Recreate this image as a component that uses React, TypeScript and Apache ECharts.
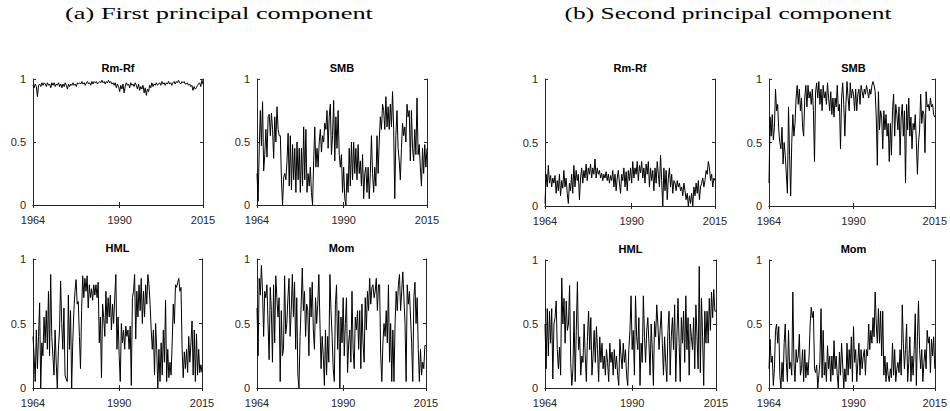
import React, { useEffect, useRef } from "react";
import * as echarts from "echarts";

// sample dates: every 4 months from 1964 to 2015
const YEARS: number[] = Array.from({ length: 154 }, (_, i) => 1964 + i / 3);
const X_TICKS = [1964, 1990, 2015];
const Y_TICKS = [0, 0.5, 1];

// (a) First principal component
const A_RMRF = [
  0.95, 0.93, 0.96, 0.94, 0.86, 0.95, 0.96, 0.94, 0.97, 0.95, 0.97, 0.96,
  0.94, 0.97, 0.95, 0.96, 0.93, 0.97, 0.95, 0.97, 0.94, 0.96, 0.95, 0.97,
  0.94, 0.96, 0.93, 0.96, 0.94, 0.97, 0.95, 0.92, 0.96, 0.94, 0.96, 0.95,
  0.97, 0.95, 0.96, 0.94, 0.97, 0.96, 0.97, 0.96, 0.98, 0.96, 0.97, 0.95,
  0.97, 0.98, 0.96, 0.97, 0.95, 0.98, 0.96, 0.98, 0.97, 0.98, 0.96, 0.97,
  0.98, 0.97, 0.99, 0.97, 0.98, 0.96, 0.98, 0.97, 0.99, 0.97, 0.98, 0.96,
  0.97, 0.95, 0.97, 0.93, 0.96, 0.94, 0.90, 0.95, 0.92, 0.96, 0.89, 0.94,
  0.97, 0.95, 0.96, 0.93, 0.97, 0.95, 0.96, 0.94, 0.97, 0.95, 0.92, 0.96,
  0.91, 0.94, 0.92, 0.95, 0.89, 0.93, 0.87, 0.92, 0.90, 0.95, 0.93, 0.97,
  0.94, 0.96, 0.95, 0.97, 0.95, 0.96, 0.97, 0.95, 0.98, 0.96, 0.97, 0.95,
  0.97, 0.96, 0.98, 0.96, 0.97, 0.95, 0.97, 0.98, 0.96, 0.98, 0.97, 0.99,
  0.97, 0.96, 0.98, 0.97, 0.98, 0.96, 0.96, 0.97, 0.95, 0.96, 0.94, 0.95,
  0.91, 0.94, 0.92, 0.93, 0.95, 0.96, 0.97, 0.94, 0.99, 0.96,
];
const A_SMB = [
  0.25, 0.03, 0.45, 0.75, 0.47, 0.82, 0.27, 0.40, 0.60, 0.38, 0.70, 0.72,
  0.55, 0.73, 0.60, 0.37, 0.70, 0.50, 0.78, 0.60, 0.55, 0.55, 0.20, 0.00,
  0.22, 0.25, 0.20, 0.35, 0.57, 0.15, 0.55, 0.12, 0.48, 0.20, 0.45, 0.10,
  0.50, 0.20, 0.45, 0.10, 0.45, 0.15, 0.62, 0.20, 0.60, 0.10, 0.25, 0.15,
  0.30, 0.10, 0.00, 0.35, 0.62, 0.30, 0.45, 0.30, 0.50, 0.60, 0.42, 0.55,
  0.50, 0.65, 0.60, 0.75, 0.45, 0.70, 0.80, 0.40, 0.55, 0.83, 0.35, 0.70,
  0.45, 0.75, 0.40, 0.30, 0.40, 0.10, 0.30, 0.05, 0.00, 0.25, 0.10, 0.45,
  0.15, 0.50, 0.20, 0.50, 0.25, 0.45, 0.20, 0.48, 0.25, 0.35, 0.15, 0.40,
  0.05, 0.25, 0.30, 0.10, 0.30, 0.05, 0.25, 0.55, 0.25, 0.10, 0.30, 0.15,
  0.55, 0.25, 0.50, 0.70, 0.60, 0.80, 0.75, 0.60, 0.86, 0.62, 0.78, 0.60,
  0.80, 0.62, 0.90, 0.60, 0.05, 0.55, 0.75, 0.45, 0.35, 0.20, 0.45, 0.65,
  0.55, 0.62, 0.50, 0.80, 0.70, 0.75, 0.35, 0.75, 0.45, 0.35, 0.60, 0.40,
  0.85, 0.40, 0.48, 0.30, 0.15, 0.45, 0.25, 0.48, 0.30, 0.45,
];
const A_HML = [
  0.40, 0.25, 0.05, 0.45, 0.15, 0.40, 0.66, 0.00, 0.35, 0.25, 0.55, 0.35,
  0.60, 0.30, 0.75, 0.25, 0.88, 0.40, 0.25, 0.10, 0.45, 0.20, 0.00, 0.30,
  0.45, 0.83, 0.50, 0.30, 0.62, 0.10, 0.07, 0.05, 0.72, 0.30, 0.60, 0.00,
  0.35, 0.60, 0.75, 0.84, 0.65, 0.67, 0.40, 0.15, 0.60, 0.87, 0.70, 0.85,
  0.75, 0.87, 0.62, 0.80, 0.70, 0.77, 0.68, 0.80, 0.72, 0.80, 0.70, 0.82,
  0.35, 0.55, 0.08, 0.65, 0.55, 0.40, 0.75, 0.50, 0.70, 0.55, 0.72, 0.45,
  0.65, 0.50, 0.70, 0.88, 0.30, 0.55, 0.25, 0.05, 0.50, 0.35, 0.45, 0.30,
  0.48, 0.40, 0.45, 0.30, 0.48, 0.02, 0.70, 0.75, 0.88, 0.38, 0.75, 0.55,
  0.80, 0.60, 0.85, 0.50, 0.75, 0.55, 0.80, 0.65, 0.88, 0.80, 0.65, 0.45,
  0.30, 0.45, 0.10, 0.50, 0.30, 0.00, 0.30, 0.05, 0.35, 0.10, 0.45, 0.20,
  0.68, 0.05, 0.30, 0.08, 0.20, 0.10, 0.35, 0.65, 0.50, 0.80, 0.78, 0.82,
  0.85, 0.75, 0.78, 0.30, 0.08, 0.28, 0.15, 0.30, 0.12, 0.40, 0.20, 0.35,
  0.52, 0.10, 0.45, 0.05, 0.42, 0.10, 0.30, 0.12, 0.18, 0.12,
];
const A_MOM = [
  0.62, 0.25, 0.85, 0.72, 0.95, 0.75, 0.40, 0.75, 0.70, 0.80, 0.50, 0.22,
  0.78, 0.60, 0.20, 0.80, 0.35, 0.87, 0.70, 0.55, 0.70, 0.05, 0.60, 0.25,
  0.30, 0.87, 0.42, 0.50, 0.70, 0.85, 0.40, 0.60, 0.88, 0.55, 0.82, 0.30,
  0.70, 0.10, 0.00, 0.40, 0.65, 0.93, 0.60, 0.75, 0.40, 0.65, 0.60, 0.25,
  0.78, 0.55, 0.82, 0.45, 0.30, 0.70, 0.50, 0.65, 0.88, 0.50, 0.15, 0.40,
  0.25, 0.02, 0.45, 0.10, 0.40, 0.20, 0.88, 0.60, 0.40, 0.15, 0.05, 0.65,
  0.80, 0.30, 0.60, 0.00, 0.55, 0.35, 0.70, 0.25, 0.50, 0.70, 0.12, 0.35,
  0.45, 0.20, 0.75, 0.30, 0.15, 0.55, 0.45, 0.60, 0.30, 0.60, 0.15, 0.65,
  0.35, 0.20, 0.70, 0.45, 0.75, 0.60, 0.85, 0.65, 0.78, 0.80, 0.70, 0.75,
  0.85, 0.60, 0.80, 0.80, 0.25, 0.05, 0.35, 0.50, 0.40, 0.60, 0.35, 0.80,
  0.20, 0.50, 0.05, 0.45, 0.05, 0.50, 0.75, 0.60, 0.80, 0.88, 0.60, 0.75,
  0.90, 0.70, 0.50, 0.05, 0.80, 0.65, 0.75, 0.55, 0.35, 0.05, 0.70, 0.82,
  0.50, 0.70, 0.30, 0.05, 0.30, 0.10, 0.20, 0.15, 0.33, 0.33,
];

// (b) Second principal component
const B_RMRF = [
  0.02, 0.25, 0.15, 0.32, 0.18, 0.24, 0.15, 0.22, 0.18, 0.24, 0.10, 0.20,
  0.12, 0.25, 0.08, 0.20, 0.14, 0.28, 0.15, 0.22, 0.10, 0.02, 0.18, 0.12,
  0.25, 0.10, 0.32, 0.15, 0.28, 0.20, 0.25, 0.05, 0.22, 0.30, 0.18, 0.28,
  0.22, 0.33, 0.20, 0.30, 0.25, 0.33, 0.22, 0.30, 0.25, 0.37, 0.22, 0.30,
  0.25, 0.28, 0.22, 0.26, 0.20, 0.25, 0.22, 0.27, 0.20, 0.25, 0.18, 0.24,
  0.20, 0.28, 0.15, 0.25, 0.12, 0.22, 0.28, 0.18, 0.10, 0.25, 0.20, 0.30,
  0.15, 0.27, 0.12, 0.28, 0.20, 0.30, 0.18, 0.35, 0.22, 0.30, 0.25, 0.35,
  0.20, 0.32, 0.26, 0.35, 0.22, 0.30, 0.18, 0.33, 0.25, 0.35, 0.15, 0.30,
  0.20, 0.28, 0.12, 0.30, 0.18, 0.35, 0.25, 0.15, 0.40, 0.20, 0.00, 0.30,
  0.12, 0.28, 0.05, 0.22, 0.30, 0.15, 0.25, 0.10, 0.20, 0.18, 0.12, 0.20,
  0.15, 0.18, 0.12, 0.15, 0.08, 0.18, 0.12, 0.05, 0.10, 0.00, 0.08, 0.02,
  0.10, 0.00, 0.15, 0.08, 0.18, 0.10, 0.20, 0.05, 0.15, 0.18, 0.22, 0.15,
  0.20, 0.28, 0.25, 0.35, 0.30, 0.20, 0.25, 0.15, 0.22, 0.20,
];
const B_SMB = [
  0.18, 0.70, 0.55, 0.72, 0.52, 0.62, 0.92, 0.75, 0.80, 0.60, 0.50, 0.45,
  0.62, 0.33, 0.50, 0.40, 0.25, 0.10, 0.78, 0.40, 0.08, 0.50, 0.72, 0.55,
  0.65, 0.85, 0.95, 0.80, 0.92, 0.75, 0.85, 0.62, 0.55, 0.85, 0.95, 0.78,
  0.95, 0.85, 0.90, 0.80, 0.92, 0.75, 0.35, 0.90, 0.97, 0.85, 0.98, 0.80,
  0.92, 0.75, 0.95, 0.85, 0.90, 0.80, 0.97, 0.85, 0.75, 0.90, 0.72, 0.85,
  0.70, 0.85, 0.78, 0.95, 0.75, 0.80, 0.45, 0.85, 0.97, 0.80, 0.55, 0.80,
  0.98, 0.85, 0.75, 0.97, 0.85, 0.92, 0.88, 0.75, 0.92, 0.75, 0.88, 0.92,
  0.80, 0.95, 0.90, 0.85, 0.92, 0.88, 0.95, 0.90, 0.85, 0.92, 0.88, 0.95,
  0.98, 0.95, 0.90, 0.70, 0.32, 0.90, 0.60, 0.75, 0.70, 0.45, 0.75, 0.60,
  0.72, 0.55, 0.65, 0.35, 0.65, 0.40, 0.75, 0.88, 0.55, 0.80, 0.72, 0.60,
  0.78, 0.40, 0.70, 0.80, 0.55, 0.75, 0.18, 0.80, 0.60, 0.85, 0.55, 0.70,
  0.45, 0.65, 0.60, 0.72, 0.50, 0.25, 0.50, 0.60, 0.88, 0.65, 0.75, 0.72,
  0.42, 0.90, 0.78, 0.80, 0.75, 0.85, 0.78, 0.80, 0.72, 0.70,
];
const B_HML = [
  0.50, 0.15, 0.62, 0.25, 0.60, 0.35, 0.62, 0.07, 0.50, 0.55, 0.68, 0.30,
  0.15, 0.32, 0.10, 0.86, 0.50, 0.70, 0.35, 0.68, 0.45, 0.50, 0.80, 0.20,
  0.02, 0.15, 0.60, 0.05, 0.45, 0.83, 0.30, 0.40, 0.10, 0.25, 0.20, 0.50,
  0.25, 0.05, 0.40, 0.60, 0.30, 0.55, 0.10, 0.25, 0.45, 0.20, 0.48, 0.30,
  0.05, 0.40, 0.20, 0.35, 0.15, 0.25, 0.10, 0.30, 0.20, 0.05, 0.35, 0.20,
  0.28, 0.10, 0.30, 0.15, 0.25, 0.10, 0.02, 0.38, 0.25, 0.15, 0.35, 0.20,
  0.30, 0.10, 0.02, 0.30, 0.45, 0.72, 0.30, 0.45, 0.10, 0.72, 0.40, 0.30,
  0.55, 0.02, 0.35, 0.20, 0.72, 0.40, 0.20, 0.45, 0.55, 0.35, 0.10, 0.50,
  0.30, 0.02, 0.52, 0.40, 0.65, 0.50, 0.30, 0.45, 0.60, 0.35, 0.10, 0.40,
  0.20, 0.05, 0.45, 0.60, 0.10, 0.40, 0.55, 0.30, 0.65, 0.05, 0.40, 0.70,
  0.35, 0.05, 0.55, 0.35, 0.60, 0.20, 0.72, 0.30, 0.55, 0.10, 0.50, 0.40,
  0.30, 0.55, 0.15, 0.65, 0.40, 0.15, 0.95, 0.12, 0.70, 0.40, 0.02, 0.60,
  0.35, 0.60, 0.35, 0.70, 0.45, 0.75, 0.55, 0.77, 0.60, 0.60,
];
const B_MOM = [
  0.15, 0.38, 0.20, 0.25, 0.02, 0.15, 0.45, 0.50, 0.35, 0.48, 0.10, 0.00,
  0.20, 0.05, 0.35, 0.50, 0.20, 0.05, 0.45, 0.15, 0.20, 0.10, 0.75, 0.20,
  0.05, 0.30, 0.20, 0.25, 0.42, 0.10, 0.15, 0.30, 0.05, 0.30, 0.08, 0.20,
  0.10, 0.25, 0.50, 0.63, 0.55, 0.60, 0.15, 0.12, 0.18, 0.00, 0.10, 0.20,
  0.62, 0.08, 0.45, 0.10, 0.20, 0.05, 0.33, 0.15, 0.25, 0.05, 0.25, 0.10,
  0.37, 0.15, 0.25, 0.10, 0.00, 0.28, 0.10, 0.35, 0.18, 0.00, 0.15, 0.05,
  0.35, 0.10, 0.30, 0.15, 0.40, 0.05, 0.48, 0.20, 0.30, 0.05, 0.20, 0.35,
  0.10, 0.30, 0.15, 0.25, 0.30, 0.10, 0.30, 0.25, 0.50, 0.30, 0.45, 0.35,
  0.55, 0.40, 0.75, 0.50, 0.35, 0.62, 0.35, 0.60, 0.25, 0.60, 0.10, 0.25,
  0.05, 0.20, 0.10, 0.05, 0.15, 0.08, 0.35, 0.10, 0.30, 0.05, 0.15, 0.20,
  0.12, 0.30, 0.10, 0.65, 0.35, 0.15, 0.30, 0.50, 0.05, 0.20, 0.40, 0.05,
  0.25, 0.10, 0.30, 0.58, 0.02, 0.40, 0.68, 0.30, 0.15, 0.30, 0.05, 0.20,
  0.30, 0.15, 0.45, 0.35, 0.40, 0.12, 0.38, 0.25, 0.40, 0.15,
];

const MAIN_TITLES = ["(a) First principal component", "(b) Second principal component"];

const PANELS = [
  { title: "Rm-Rf", data: A_RMRF, left: 33, top: 79, width: 170, height: 126 },
  { title: "SMB", data: A_SMB, left: 257, top: 79, width: 170, height: 126 },
  { title: "HML", data: A_HML, left: 33, top: 259, width: 169, height: 129 },
  { title: "Mom", data: A_MOM, left: 257, top: 259, width: 169, height: 129 },
  { title: "Rm-Rf", data: B_RMRF, left: 545, top: 79, width: 170, height: 127 },
  { title: "SMB", data: B_SMB, left: 769, top: 79, width: 169, height: 127 },
  { title: "HML", data: B_HML, left: 545, top: 260, width: 171, height: 128 },
  { title: "Mom", data: B_MOM, left: 769, top: 260, width: 169, height: 128 },
];

const AXIS_COLOR = "#262626";
const LABEL_FONT = "'Liberation Sans', Arial, sans-serif";

function measure(text: string, font: string): number {
  const c = document.createElement("canvas").getContext("2d");
  if (!c) return text.length * 8;
  c.font = font;
  return c.measureText(text).width;
}

export default function App() {
  const ref = useRef<HTMLDivElement>(null);
  useEffect(() => {
    if (!ref.current) return;
    const chart = echarts.init(ref.current, null, { renderer: "svg", width: 950, height: 411 });

    const grids: any[] = [];
    const xAxes: any[] = [];
    const yAxes: any[] = [];
    const series: any[] = [];
    const graphics: any[] = [];

    PANELS.forEach((p, i) => {
      grids.push({ left: p.left, top: p.top, width: p.width, height: p.height, containLabel: false });
      xAxes.push({
        type: "value",
        gridIndex: i,
        min: 1964,
        max: 2015,
        position: "bottom",
        splitLine: { show: false },
        axisLine: { show: true, lineStyle: { color: AXIS_COLOR, width: 1 } },
        axisTick: { show: true, inside: true, length: 3, customValues: X_TICKS, lineStyle: { color: AXIS_COLOR } },
        axisLabel: {
          show: true,
          customValues: X_TICKS,
          showMinLabel: true,
          showMaxLabel: true,
          margin: 9,
          color: AXIS_COLOR,
          fontSize: 11,
          fontFamily: LABEL_FONT,
          formatter: (v: number) => String(Math.round(v)),
        },
      });
      yAxes.push({
        type: "value",
        gridIndex: i,
        min: 0,
        max: 1,
        interval: 0.5,
        position: "left",
        splitLine: { show: false },
        axisLine: { show: true, lineStyle: { color: AXIS_COLOR, width: 1 } },
        axisTick: { show: true, inside: true, length: 3, customValues: Y_TICKS, lineStyle: { color: AXIS_COLOR } },
        axisLabel: {
          show: true,
          customValues: Y_TICKS,
          margin: 7,
          color: AXIS_COLOR,
          fontSize: 11,
          fontFamily: LABEL_FONT,
        },
      });
      series.push({
        type: "line",
        xAxisIndex: i,
        yAxisIndex: i,
        data: YEARS.map((yr, k) => [yr, p.data[k]]),
        showSymbol: false,
        symbol: "none",
        lineStyle: { color: "#000", width: 1 },
        silent: true,
      });
      graphics.push({
        type: "text",
        x: p.left + p.width / 2,
        y: p.top - 11,
        style: {
          text: p.title,
          fill: "#000",
          font: "bold 11px 'Liberation Sans', Arial, sans-serif",
          textAlign: "center",
          textVerticalAlign: "middle",
        },
      });
    });
    PANELS.forEach((p, i) => {
      xAxes.push({
        type: "value",
        gridIndex: i,
        min: 1964,
        max: 2015,
        position: "top",
        splitLine: { show: false },
        axisLine: { show: true, lineStyle: { color: AXIS_COLOR, width: 1 } },
        axisTick: { show: true, inside: true, length: 3, customValues: X_TICKS, lineStyle: { color: AXIS_COLOR } },
        axisLabel: { show: false },
      });
      yAxes.push({
        type: "value",
        gridIndex: i,
        min: 0,
        max: 1,
        interval: 0.5,
        position: "right",
        splitLine: { show: false },
        axisLine: { show: true, lineStyle: { color: AXIS_COLOR, width: 1 } },
        axisTick: { show: true, inside: true, length: 3, lineStyle: { color: AXIS_COLOR } },
        axisLabel: { show: false },
      });
    });

    const titleFont = "17px 'Liberation Serif', 'DejaVu Serif', serif";
    const titleCenters = [219, 728];
    const titleWidths = [308, 327];
    MAIN_TITLES.forEach((t, i) => {
      const w = measure(t, titleFont);
      const sx = w > 0 ? titleWidths[i] / w : 1;
      graphics.push({
        type: "text",
        x: titleCenters[i],
        y: 13,
        scaleX: sx,
        style: {
          text: t,
          fill: "#000",
          font: titleFont,
          textAlign: "center",
          textVerticalAlign: "middle",
        },
      });
    });

    chart.setOption({
      animation: false,
      backgroundColor: "#fff",
      grid: grids,
      xAxis: xAxes,
      yAxis: yAxes,
      series,
      graphic: graphics,
    });
    return () => chart.dispose();
  }, []);
  return (
    <div
      ref={ref}
      style={{ position: "absolute", left: 0, top: 0, width: 950, height: 411, background: "#fff" }}
    />
  );
}
